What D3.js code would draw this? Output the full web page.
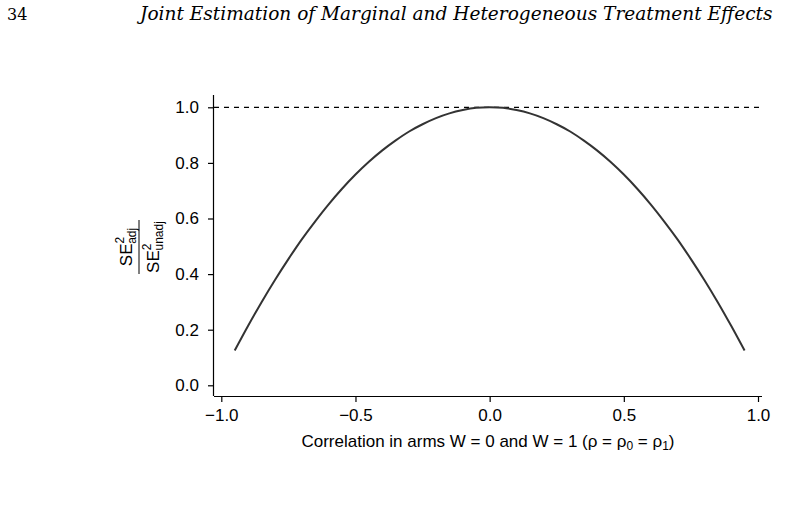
<!DOCTYPE html>
<html><head><meta charset="utf-8">
<script src="https://cdn.jsdelivr.net/npm/d3@7"></script>
<style>body{margin:0;background:#fff}svg{display:block}</style>
</head><body>
<script>
const rho = [-0.95,-0.9,-0.85,-0.8,-0.75,-0.7,-0.65,-0.6,-0.55,-0.5,-0.45,-0.4,-0.35,-0.3,-0.25,-0.2,-0.15,-0.1,-0.05,0,
  0.05,0.1,0.15,0.2,0.25,0.3,0.35,0.4,0.45,0.5,0.55,0.6,0.65,0.7,0.75,0.8,0.85,0.9,0.95];
const ratio = [0.125,0.214,0.299,0.379,0.454,0.525,0.590,0.651,0.707,0.758,0.804,0.845,0.881,0.913,0.939,0.961,0.978,0.990,0.998,1.0,
  0.998,0.990,0.978,0.961,0.939,0.913,0.881,0.845,0.804,0.758,0.707,0.651,0.590,0.525,0.454,0.379,0.299,0.214,0.125];
const xTicks = [-1.0,-0.5,0.0,0.5,1.0];
const yTicks = [0.0,0.2,0.4,0.6,0.8,1.0];
const refLine = 1.0;

const W = 786, H = 515;
const svg = d3.select("body").append("svg").attr("width", W).attr("height", H);

// page header
svg.append("text").attr("x", 7).attr("y", 20).attr("font-family", "DejaVu Serif, serif")
  .attr("font-size", 16).text("34");
const title = svg.append("text").attr("x", 140).attr("y", 20)
  .attr("font-family", "DejaVu Serif, serif").attr("font-style", "italic")
  .attr("font-size", 18).text("Joint Estimation of Marginal and Heterogeneous Treatment Effects");
const tw = title.node().getComputedTextLength();
title.attr("font-size", 18 * 633 / tw);

const x = d3.scaleLinear().domain([-1, 1]).range([221.3, 758]);
const y = d3.scaleLinear().domain([0, 1]).range([385.3, 107.3]);
const pLeft = 214, pRight = 762, pTop = 95, pBottom = 396;

const font = "Liberation Sans, Arial, sans-serif";

// dashed reference line
svg.append("line").attr("x1", pLeft).attr("x2", pRight).attr("y1", y(refLine)).attr("y2", y(refLine))
  .attr("stroke", "#000").attr("stroke-width", 1.2).attr("stroke-dasharray", "5,5");

// curve
svg.append("path").datum(rho.map((r, i) => [r, ratio[i]]))
  .attr("fill", "none").attr("stroke", "#333").attr("stroke-width", 2)
  .attr("d", d3.line().x(d => x(d[0])).y(d => y(d[1])).curve(d3.curveCatmullRom));

// axes
const xAxis = svg.append("g").attr("transform", `translate(0,${pBottom})`)
  .call(d3.axisBottom(x).tickValues(xTicks).tickFormat(d => d3.format(".1f")(d).replace("-", "\u2212")).tickSizeOuter(0).tickSize(6).tickPadding(7));
xAxis.select(".domain").attr("d", `M${pLeft},0.5H${pRight}`);
const yAxis = svg.append("g").attr("transform", `translate(${pLeft},0)`)
  .call(d3.axisLeft(y).tickValues(yTicks).tickFormat(d3.format(".1f")).tickSizeOuter(0).tickSize(6).tickPadding(9));
yAxis.select(".domain").attr("d", `M-0.5,${pTop}V${pBottom}`);
svg.selectAll(".tick text").attr("font-family", font).attr("font-size", 17).attr("fill", "#000");
svg.selectAll(".domain, .tick line").attr("stroke", "#000").attr("stroke-width", 1.2);

// x title
const xt = svg.append("text").attr("x", 488).attr("y", 447).attr("text-anchor", "middle")
  .attr("font-family", font).attr("font-size", 17);
xt.append("tspan").text("Correlation in arms W = 0 and W = 1 (\u03C1 = \u03C1");
xt.append("tspan").attr("font-size", 12).attr("dy", 3).text("0");
xt.append("tspan").attr("dy", -3).text(" = \u03C1");
xt.append("tspan").attr("font-size", 12).attr("dy", 3).text("1");
xt.append("tspan").attr("dy", -3).text(")");

// y title (fraction)
const yl = svg.append("g").attr("transform", "translate(139,247) rotate(-90)");
function se(g, yy, sub) {
  const t = g.append("text").attr("x", 0).attr("y", yy).attr("text-anchor", "middle")
    .attr("font-family", font).attr("font-size", 17);
  t.append("tspan").text("SE");
  t.append("tspan").attr("font-size", 12).attr("dy", -8).text("2");
  t.append("tspan").attr("font-size", 12).attr("dx", -7).attr("dy", 12).text(sub);
}
se(yl, -7, "adj");
se(yl, 20, "unadj");
yl.append("line").attr("x1", -27).attr("x2", 27).attr("y1", 0).attr("y2", 0).attr("stroke", "#000").attr("stroke-width", 1);
</script>
</body></html>
